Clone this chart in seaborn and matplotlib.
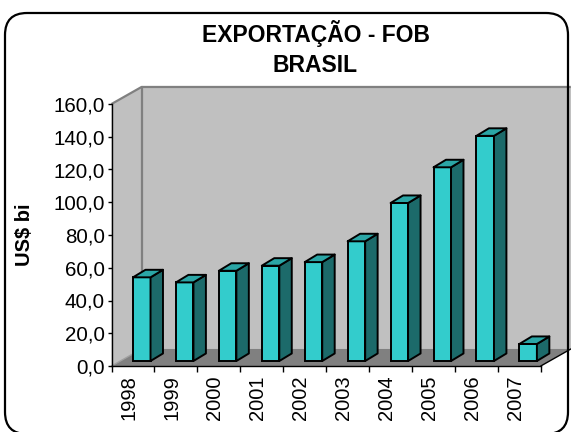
import matplotlib
matplotlib.use("Agg")
import matplotlib.pyplot as plt
import matplotlib.transforms as mtransforms
from matplotlib.patches import Polygon, FancyBboxPatch
from matplotlib.ticker import FuncFormatter, FixedLocator
import seaborn as sns

# Brazilian exports (FOB), US$ billions
years = ["1998", "1999", "2000", "2001", "2002", "2003", "2004", "2005", "2006", "2007"]
exports = [51.1, 48.0, 55.1, 58.2, 60.4, 73.1, 96.5, 118.3, 137.5, 10.4]
y_ticks = [0, 20, 40, 60, 80, 100, 120, 140, 160]

sns.set_style("white")
plt.rcParams["font.family"] = ["Liberation Sans", "DejaVu Sans"]
plt.rcParams["text.color"] = "black"

W, H = 571, 432
fig = plt.figure(figsize=(W / 100, H / 100), dpi=100)
fig.patch.set_facecolor("white")

x0, x1 = 111.5, 540.8        # plot area, pixels from left
y0, y1 = 366.0, 104.0        # value 0 and value 160, pixels from top
ax = fig.add_axes([x0 / W, (H - y0) / H, (x1 - x0) / W, (y0 - y1) / H])
ax.set_facecolor("none")

# depth of the 3-D box, in data units (categories, values)
DX, DY = 0.70, 10.4
# bars sit inside the box: front face offset and bar depth
FX, FY = 0.205, 3.05
BX, BY = 0.29, 4.6
YMAX = 160

wall_c, floor_c, edge_c = "#C0C0C0", "#808080", "#808080"
face_c, side_c, top_c = "#33CCCC", "#1C6A6A", "#2BA6A6"

# back wall, side wall and floor
back = Polygon([(-0.5 + DX, DY), (9.5 + DX, DY), (9.5 + DX, YMAX + DY), (-0.5 + DX, YMAX + DY)],
               closed=True, facecolor=wall_c, edgecolor="none", zorder=0.1, clip_on=False)
left = Polygon([(-0.5, 0), (-0.5 + DX, DY), (-0.5 + DX, YMAX + DY), (-0.5, YMAX)],
               closed=True, facecolor=wall_c, edgecolor="none", zorder=0.2, clip_on=False)
floor = Polygon([(-0.5, 0), (9.5, 0), (9.5 + DX, DY), (-0.5 + DX, DY)],
                closed=True, facecolor=floor_c, edgecolor="none", zorder=0.3, clip_on=False)
for p in (back, left, floor):
    ax.add_patch(p)
ax.plot([-0.5, -0.5 + DX, 9.5 + DX], [YMAX, YMAX + DY, YMAX + DY], color=edge_c, lw=1.6,
        zorder=0.4, clip_on=False, solid_capstyle="butt")
ax.plot([-0.5 + DX, -0.5 + DX], [DY, YMAX + DY], color=edge_c, lw=1.6, zorder=0.4, clip_on=False)
ax.plot([-0.5, -0.5 + DX], [0, DY], color="#A0A0A0", lw=1.0, zorder=0.4, clip_on=False)
ax.plot([9.5, 9.5 + DX], [0, DY], color="black", lw=1.0, zorder=2.6, clip_on=False)

# front faces of the columns
sns.barplot(x=years, y=exports, color=face_c, saturation=1, width=0.408,
            edgecolor="black", linewidth=1.4, ax=ax, zorder=1)

shift = mtransforms.Affine2D().translate(FX, FY) + ax.transData
for bar in list(ax.patches):
    if not hasattr(bar, "get_x") or bar in (back, left, floor):
        continue
    bar.set_transform(shift)
    bar.set_clip_on(False)
    xl = bar.get_x()
    xr = xl + bar.get_width()
    v = bar.get_height()
    side = Polygon([(xr, 0), (xr + BX, BY), (xr + BX, v + BY), (xr, v)], closed=True,
                   facecolor=side_c, edgecolor="black", lw=1.4, transform=shift,
                   zorder=1, clip_on=False, joinstyle="round")
    top = Polygon([(xl, v), (xr, v), (xr + BX, v + BY), (xl + BX, v + BY)], closed=True,
                  facecolor=top_c, edgecolor="black", lw=1.4, transform=shift,
                  zorder=1, clip_on=False, joinstyle="round")
    ax.add_patch(side)
    ax.add_patch(top)

ax.set_xlim(-0.5, 9.5)
ax.set_ylim(0, YMAX)

# axes lines and ticks
for s in ("top", "right"):
    ax.spines[s].set_visible(False)
for s in ("left", "bottom"):
    ax.spines[s].set_color("black")
    ax.spines[s].set_linewidth(1.0)
    ax.spines[s].set_zorder(2.5)

ax.set_yticks(y_ticks)
ax.yaxis.set_major_formatter(FuncFormatter(lambda v, _: f"{v:.1f}".replace(".", ",")))
ax.tick_params(axis="y", direction="out", length=3.2, width=1.0, pad=1.5,
               labelsize=14.8, colors="black", left=True)

ax.xaxis.set_minor_locator(FixedLocator([i - 0.5 for i in range(len(years) + 1)]))
ax.tick_params(axis="x", which="minor", direction="out", length=4, width=1.0, bottom=True,
               color="black")
ax.tick_params(axis="x", which="major", length=0, pad=6.5, labelsize=14.5, colors="black")
ax.set_xticks(range(len(years)))
ax.set_xticklabels(years, rotation=90, va="top", ha="center")
lbl_shift = mtransforms.ScaledTranslation(-4 / 100, 0, fig.dpi_scale_trans)
for lbl in ax.get_xticklabels():
    lbl.set_transform(lbl.get_transform() + lbl_shift)
ax.set_xlabel("")
ax.set_ylabel("")

# axis title and chart title
fig.text(24.6 / W, 1 - 235 / H, "US$ bi", rotation=90, ha="center", va="center",
         fontsize=14.5, fontweight="bold", color="black")
fig.text(315.5 / W, 1 - 42.3 / H, "EXPORTAÇÃO - FOB", ha="center", va="baseline",
         fontsize=16.5, fontweight="bold", color="black")
fig.text(315.5 / W, 1 - 72.3 / H, "BRASIL", ha="center", va="baseline",
         fontsize=16.5, fontweight="bold", color="black")

# rounded chart border
border = FancyBboxPatch((5, -2), 563, 421, boxstyle="round,pad=0,rounding_size=22",
                        transform=mtransforms.IdentityTransform(), facecolor="none",
                        edgecolor="black", lw=1.6)
fig.add_artist(border)

fig.savefig("out.png", dpi=100, facecolor="white")
